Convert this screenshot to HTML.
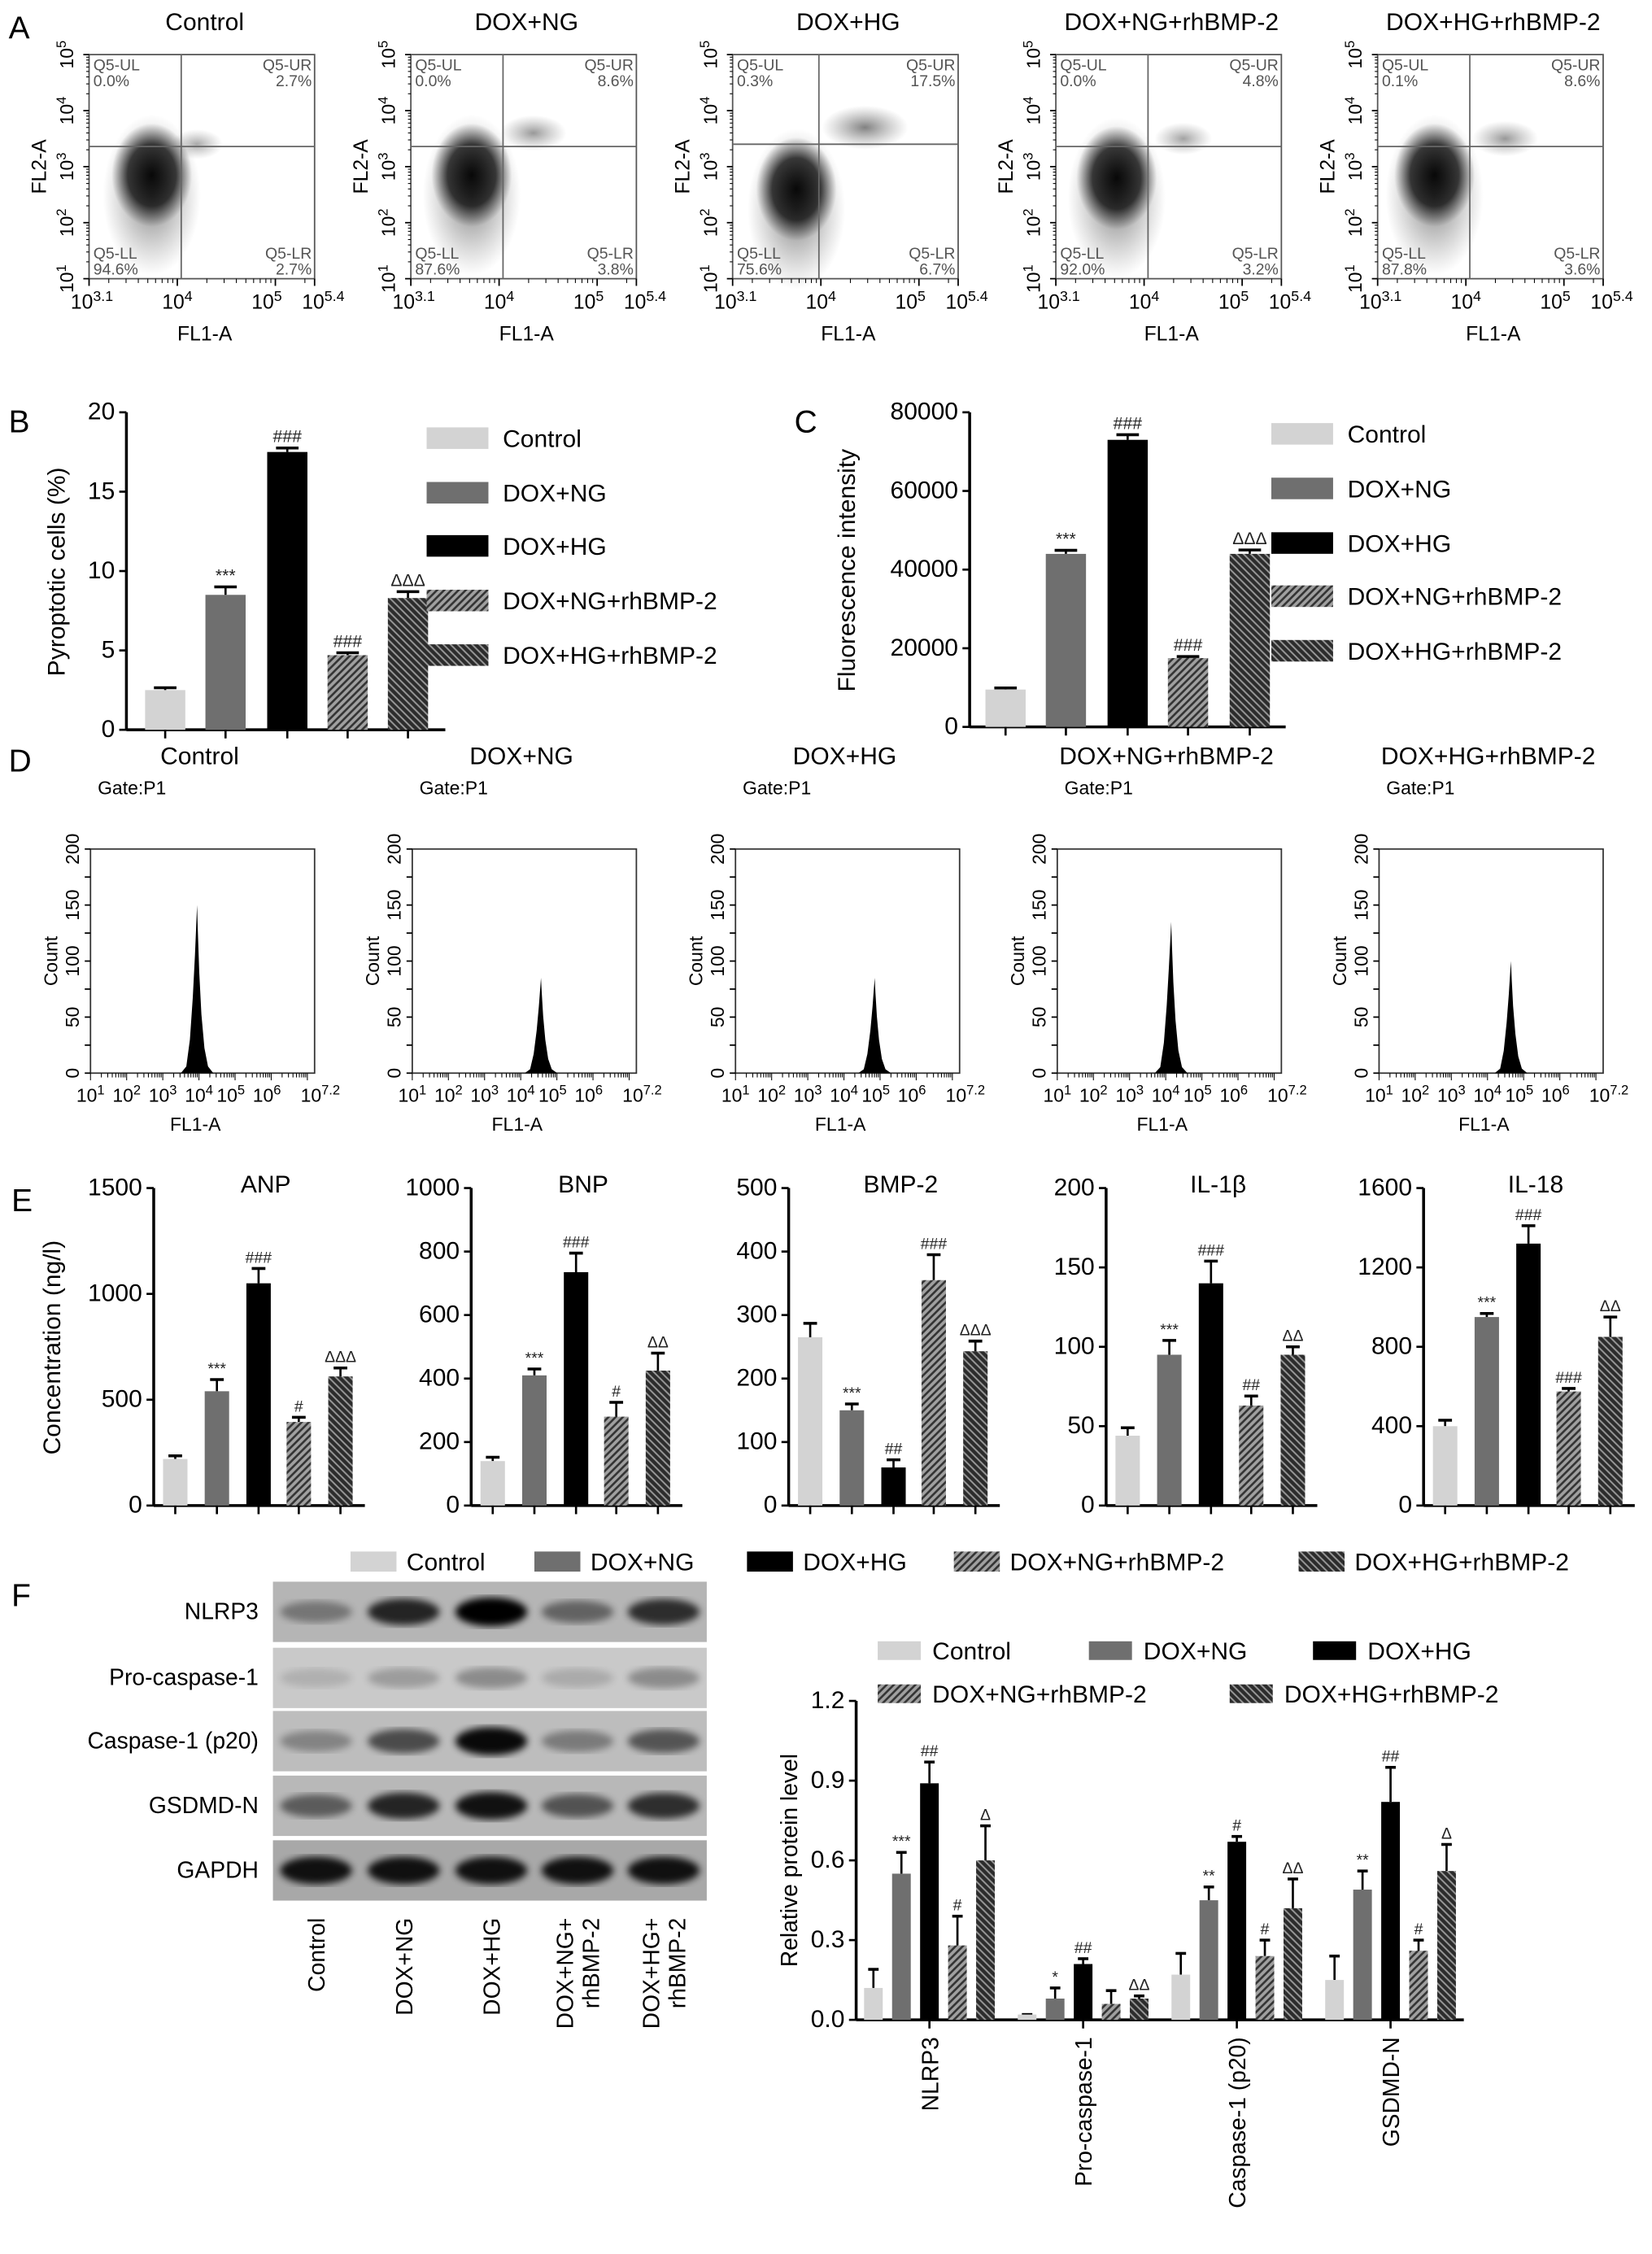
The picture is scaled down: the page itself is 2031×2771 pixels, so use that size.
<!DOCTYPE html>
<html><head><meta charset="utf-8"><style>
html,body{margin:0;padding:0;background:#fff}
svg{display:block;font-family:"Liberation Sans",Arial,sans-serif}
</style></head><body>
<svg id="fig" xmlns="http://www.w3.org/2000/svg" width="2031" height="2771" viewBox="0 0 1150 1569" preserveAspectRatio="none">
<defs>
<pattern id="hatchA" patternUnits="userSpaceOnUse" width="5" height="5"><rect width="5" height="5" fill="#a0a0a0"/><path d="M-1,1 l2,-2 M0,5 l5,-5 M4,6 l2,-2" stroke="#333" stroke-width="1.5"/></pattern>
<pattern id="hatchB" patternUnits="userSpaceOnUse" width="5" height="5"><rect width="5" height="5" fill="#2c2c2c"/><path d="M-1,4 l2,2 M0,0 l5,5 M4,-1 l2,2" stroke="#999" stroke-width="1.1"/></pattern>
<radialGradient id="cloud"><stop offset="0" stop-color="#000" stop-opacity="0.95"/><stop offset="0.6" stop-color="#111" stop-opacity="0.8"/><stop offset="1" stop-color="#333" stop-opacity="0"/></radialGradient>
<radialGradient id="cloud2"><stop offset="0" stop-color="#222" stop-opacity="0.6"/><stop offset="1" stop-color="#555" stop-opacity="0"/></radialGradient>
<filter id="blur"><feGaussianBlur stdDeviation="2.5"/></filter>
</defs>
</svg>
<script>
const NS='http://www.w3.org/2000/svg';
const svg=document.getElementById('fig');
function mk(tag,attrs,parent){const e=document.createElementNS(NS,tag);for(const k in attrs)e.setAttribute(k,attrs[k]);(parent||svg).appendChild(e);return e;}
function tx(x,y,s,size,anchor,parent){const e=mk('text',{x:x,y:y,'font-size':size,'text-anchor':anchor||'start'},parent);e.textContent=s;return e;}
function sup(x,y,base,ex,size,anchor,parent,rot){const e=mk('text',{x:x,y:y,'font-size':size,'text-anchor':anchor||'middle'},parent);if(rot)e.setAttribute('transform','rotate(-90 '+x+' '+y+')');const a=mk('tspan',{},e);a.textContent=base;const b=mk('tspan',{dy:-size*0.4,'font-size':size*0.72},e);b.textContent=ex;return e;}
const FILLS=['#d3d3d3','#6f6f6f','#000','url(#hatchA)','url(#hatchB)'];
const GROUPS=['Control','DOX+NG','DOX+HG','DOX+NG+rhBMP-2','DOX+HG+rhBMP-2'];

// ---------- Panel A data ----------
const scatterLefts=[62,286,510,735,959];
const scatterUL=['0.0%','0.0%','0.3%','0.0%','0.1%'];
const scatterUR=['2.7%','8.6%','17.5%','4.8%','8.6%'];
const scatterLL=['94.6%','87.6%','75.6%','92.0%','87.8%'];
const scatterLR=['2.7%','3.8%','6.7%','3.2%','3.6%'];
const clusterX=[3.74,3.72,3.75,3.72,3.68];
const clusterY=[2.85,2.85,2.6,2.8,2.85];
const urX=[4.2,4.35,4.45,4.4,4.4];
const urY=[3.4,3.6,3.7,3.5,3.5];
const urSize=[0.3,0.55,0.9,0.4,0.55];
const gateX=[4.04,4.04,3.98,4.04,4.04];
const gateY=[3.36,3.36,3.4,3.36,3.36];

mk('text',{x:6,y:27,'font-size':22}).textContent='A';
scatterLefts.forEach((L,i)=>{
  const g=mk('g',{});
  
  
  const T=38,W=157,H=156;
  const sx=v=>L+(v-3.1)/(5.4-3.1)*W, sy=v=>T+H-(v-1)/4*H;
  const title=tx(L+W/2+2,21,GROUPS[i],17,'middle',g);
  
  
  mk('ellipse',{cx:sx(clusterX[i]),cy:sy(clusterY[i])+14,rx:34,ry:56,fill:'url(#cloud2)'},g);
  const c=mk('ellipse',{cx:sx(clusterX[i]),cy:sy(clusterY[i]),rx:28,ry:36,fill:'url(#cloud)'},g);
  
  
  const u=mk('ellipse',{cx:sx(urX[i]),cy:sy(urY[i]),rx:12+20*urSize[i],ry:8+8*urSize[i],fill:'url(#cloud2)',opacity:0.5+0.5*urSize[i]},g);
  
  
  mk('rect',{x:L,y:T,width:W,height:H,fill:'none',stroke:'#555','stroke-width':1},g);
  mk('line',{x1:sx(gateX[i]),x2:sx(gateX[i]),y1:T,y2:T+H,stroke:'#666','stroke-width':1},g);
  mk('line',{x1:L,x2:L+W,y1:sy(gateY[i]),y2:sy(gateY[i]),stroke:'#666','stroke-width':1},g);
  const qs=[[L+3,T+11,'Q5-UL','start'],[L+3,T+22,scatterUL[i],'start'],[L+W-2,T+11,'Q5-UR','end'],[L+W-2,T+22,scatterUR[i],'end'],[L+3,T+H-14,'Q5-LL','start'],[L+3,T+H-3,scatterLL[i],'start'],[L+W-2,T+H-14,'Q5-LR','end'],[L+W-2,T+H-3,scatterLR[i],'end']];
  qs.forEach(q=>{const t=tx(q[0],q[1],q[2],11,q[3],g);t.setAttribute('fill','#555');});
  [1,2,3,4,5].forEach(v=>{const y=sy(v);mk('line',{x1:L-4,x2:L,y1:y,y2:y,stroke:'#000'},g);sup(L-11,y,'10',String(v),13,'middle',g,true);
    if(v<5)for(let m=2;m<10;m++){const yy=sy(v+Math.log10(m));mk('line',{x1:L-2,x2:L,y1:yy,y2:yy,stroke:'#000','stroke-width':0.6},g);}});
  [3.1,4,5,5.4].forEach(p=>{const x=sx(p);mk('line',{x1:x,x2:x,y1:T+H,y2:T+H+5,stroke:'#000'},g);});
  for(let d=3;d<=5;d++)for(let m=2;m<10;m++){const v=d+Math.log10(m);if(v>3.1&&v<5.4){const x=sx(v);mk('line',{x1:x,x2:x,y1:T+H,y2:T+H+3,stroke:'#000','stroke-width':0.6},g);}}
  sup(sx(3.1)+2,T+H+21,'10','3.1',14,'middle',g);sup(sx(4),T+H+21,'10','4',14,'middle',g);sup(sx(5)-6,T+H+21,'10','5',14,'middle',g);sup(sx(5.4)+6,T+H+21,'10','5.4',14,'middle',g);
  tx(L+W/2+2,T+H+43,'FL1-A',14,'middle',g);
  const yl=tx(L-30,T+H/2,'FL2-A',14,'middle',g);yl.setAttribute('transform','rotate(-90 '+(L-30)+' '+(T+H/2)+')');
});

function barChart(o){
  const g=mk('g',{});
  
  
  const sy=v=>o.bottom-(v/o.max)*(o.bottom-o.top);
  mk('line',{x1:o.x,x2:o.x,y1:o.top,y2:o.bottom,stroke:'#000','stroke-width':2},g);
  mk('line',{x1:o.x,x2:o.xEnd,y1:o.bottom,y2:o.bottom,stroke:'#000','stroke-width':2},g);
  o.ticks.forEach((v,k)=>{const y=sy(v);mk('line',{x1:o.x-5,x2:o.x,y1:y,y2:y,stroke:'#000','stroke-width':1.5},g);const t=tx(o.x-8,y+5,o.tickLabels[k],o.fs||16,'end',g);});
  o.vals.forEach((v,k)=>{
    const cx=o.barX[k];const w=o.bw;
    const yt=sy(v+o.errs[k]);
    mk('line',{x1:cx,x2:cx,y1:sy(v),y2:yt,stroke:'#000','stroke-width':1.5},g);
    mk('line',{x1:cx-w*0.28,x2:cx+w*0.28,y1:yt,y2:yt,stroke:'#000','stroke-width':2},g);
    const r=mk('rect',{x:cx-w/2,y:sy(v),width:w,height:o.bottom-sy(v),fill:FILLS[k%5]},g);
    
    
    if(o.sig[k]){const s=tx(cx,yt-4,o.sig[k],o.sigfs||11,'middle',g);s.setAttribute('fill','#222');}
    if(o.xticks!==false)mk('line',{x1:cx,x2:cx,y1:o.bottom,y2:o.bottom+6,stroke:'#000','stroke-width':1.5},g);
  });
  return g;
}
function legendItem(x,y,k,fs,sw,sh,tgap){
  const r=mk('rect',{x:x,y:y-sh/2,width:sw,height:sh,fill:FILLS[k]});
  
  
  const t=tx(x+sw+tgap,y+fs*0.36,GROUPS[k],fs,'start');
  
  
}

// ---------- Panel B ----------
const bVals=[2.5,8.5,17.5,4.7,8.3];
const bErrs=[0.15,0.5,0.25,0.15,0.4];
const bSig=['','***','###','###','ΔΔΔ'];
const bTicks=[0,5,10,15,20];
const bTickLabels=['0','5','10','15','20'];
tx(6,301,'B',22);
barChart({name:'pyroptotic-cells-chart',x:88,xEnd:310,top:287,bottom:508,max:20,ticks:bTicks,tickLabels:bTickLabels,vals:bVals,errs:bErrs,sig:bSig,cats:GROUPS,barX:[115,157,200,242,284],bw:28,fs:17,sigfs:12});
{const t=tx(45,398,'Pyroptotic cells (%)',17,'middle');t.setAttribute('transform','rotate(-90 45 398)');}
[305,343,380,418,456].forEach((y,k)=>legendItem(297,y,k,17,43,15,10));

// ---------- Panel C ----------
const cVals=[9500,44000,73000,17500,44000];
const cErrs=[400,900,1300,400,1000];
const cSig=['','***','###','###','ΔΔΔ'];
const cTicks=[0,20000,40000,60000,80000];
const cTickLabels=['0','20000','40000','60000','80000'];
tx(553,301,'C',22);
barChart({name:'fluorescence-intensity-chart',x:675,xEnd:895,top:287,bottom:506,max:80000,ticks:cTicks,tickLabels:cTickLabels,vals:cVals,errs:cErrs,sig:cSig,cats:GROUPS,barX:[700,742,785,827,870],bw:28,fs:17,sigfs:12});
{const t=tx(595,397,'Fluorescence intensity',17,'middle');t.setAttribute('transform','rotate(-90 595 397)');}
[302,340,378,415,453].forEach((y,k)=>legendItem(885,y,k,17,43,15,10));

// ---------- Panel D ----------
const histLefts=[63,287,512,736,960];
const histPeakLog=[3.95,4.56,4.85,4.15,4.65];
const histPeakCount=[150,85,85,135,100];
const histTicks=[0,25,50,75,100,125,150,175,200];
tx(6,537,'D',22);
histLefts.forEach((L,i)=>{
  const g=mk('g',{});
  
  
  const T=591,W=156,H=156;
  const sx=v=>L+(v-1)/6.2*W, sy=v=>T+H-v/200*H;
  tx(L+W/2-2,532,GROUPS[i],17,'middle',g);
  tx(L+5,553,'Gate:P1',13,'start',g);
  mk('rect',{x:L,y:T,width:W,height:H,fill:'none',stroke:'#333','stroke-width':1},g);
  const c=histPeakLog[i],h=histPeakCount[i];
  let d='M'+sx(c-0.45)+','+sy(0);
  const pts=[[-0.45,0],[-0.3,0.04],[-0.2,0.2],[-0.12,0.45],[-0.06,0.7],[-0.02,0.9],[0,1],[0.02,0.85],[0.06,0.6],[0.12,0.35],[0.2,0.15],[0.3,0.04],[0.45,0]];
  pts.forEach(p=>{d+=' L'+sx(c+p[0]).toFixed(1)+','+sy(h*p[1]).toFixed(1);});
  const pk=mk('path',{d:d+'Z',fill:'#000'},g);
  
  
  histTicks.forEach(v=>{const y=sy(v);mk('line',{x1:L-4,x2:L,y1:y,y2:y,stroke:'#000'},g);if(v%50===0){const t=tx(L-8,y,String(v),13,'middle',g);t.setAttribute('transform','rotate(-90 '+(L-8)+' '+y+')');}});
  for(let dd=1;dd<=7;dd++){for(let m=1;m<10;m++){const v=dd+Math.log10(m);if(v<=7.2){const x=sx(v);mk('line',{x1:x,x2:x,y1:T+H,y2:T+H+(m===1?5:3),stroke:'#000','stroke-width':0.6},g);}}}
  [1,2,3,4,5,6].forEach(v=>sup(sx(v)+(v>=5?-3:0),T+H+20,'10',String(v),13,'middle',g));
  sup(sx(7.2)+4,T+H+20,'10','7.2',13,'middle',g);
  tx(L+W/2-5,T+H+40,'FL1-A',13,'middle',g);
  const yl=tx(L-23,T+H/2,'Count',13,'middle',g);yl.setAttribute('transform','rotate(-90 '+(L-23)+' '+(T+H/2)+')');
});

// ---------- Panel E ----------
const eTitles=['ANP','BNP','BMP-2','IL-1β','IL-18'];
const eMax=[1500,1000,500,200,1600];
const eTicks=[[0,500,1000,1500],[0,200,400,600,800,1000],[0,100,200,300,400,500],[0,50,100,150,200],[0,400,800,1200,1600]];
const eVals=[[220,540,1050,395,610],[140,410,735,280,425],[265,150,60,355,243],[44,95,140,63,95],[400,950,1320,575,850]];
const eErrs=[[15,55,70,22,40],[12,20,60,45,55],[22,10,12,40,16],[5,9,14,6,5],[30,18,90,15,100]];
const eSig=[['','***','###','#','ΔΔΔ'],['','***','###','#','ΔΔ'],['','***','##','###','ΔΔΔ'],['','***','###','##','ΔΔ'],['','***','###','###','ΔΔ']];
const eLefts=[107,328,549,770,991];
tx(8,843,'E',22);
eLefts.forEach((L,i)=>{
  barChart({name:'chart-'+eTitles[i].toLowerCase().replace(/[^a-z0-9]+/g,'-'),x:L,xEnd:L+147,top:827,bottom:1048,max:eMax[i],ticks:eTicks[i],tickLabels:eTicks[i].map(String),vals:eVals[i],errs:eErrs[i],sig:eSig[i],cats:GROUPS,barX:[L+15,L+44,L+73,L+101,L+130],bw:17,fs:17,sigfs:11});
  const t=tx(L+78,830,eTitles[i],17,'middle');
});
{const t=tx(42,938,'Concentration (ng/l)',17,'middle');t.setAttribute('transform','rotate(-90 42 938)');}
[[244,0],[372,1],[520,2],[664,3],[904,4]].forEach(p=>legendItem(p[0],1087,p[1],17,32,14,7));

// ---------- Panel F blot ----------
const blotProteins=['NLRP3','Pro-caspase-1','Caspase-1 (p20)','GSDMD-N','GAPDH'];
const blotRowTop=[1101,1147,1191,1236,1281];
const blotBg=['#b5b5b5','#c9c9c9','#bdbdbd','#b8b8b8','#a8a8a8'];
const blotIntensity=[[0.35,0.8,1.0,0.45,0.75],[0.12,0.22,0.3,0.15,0.3],[0.3,0.6,0.95,0.35,0.55],[0.5,0.8,0.9,0.55,0.75],[0.9,0.9,0.9,0.9,0.9]];
const laneX=[220,281,342,402,462];
tx(8,1118,'F',22);
blotProteins.forEach((p,r)=>{
  const g=mk('g',{});
  
  
  mk('rect',{x:190,y:blotRowTop[r],width:302,height:42,fill:blotBg[r]},g);
  blotIntensity[r].forEach((v,k)=>{mk('ellipse',{cx:laneX[k],cy:blotRowTop[r]+21,rx:25,ry:6+4*v,fill:'#000',opacity:v,filter:'url(#blur)'},g);});
  tx(180,blotRowTop[r]+26,p,16,'end',g);
});
const laneLabels=[['Control'],['DOX+NG'],['DOX+HG'],['DOX+NG+','rhBMP-2'],['DOX+HG+','rhBMP-2']];
laneLabels.forEach((ls,k)=>{ls.forEach((s,j)=>{const x=laneX[k]+6+(j-(ls.length-1)/2)*18;const t=tx(x,1335,s,16,'end');t.setAttribute('transform','rotate(-90 '+x+' 1335)');});});

// ---------- Panel F chart ----------
const fCats=['NLRP3','Pro-caspase-1','Caspase-1 (p20)','GSDMD-N'];
const fVals=[[0.12,0.55,0.89,0.28,0.60],[0.02,0.08,0.21,0.06,0.08],[0.17,0.45,0.67,0.24,0.42],[0.15,0.49,0.82,0.26,0.56]];
const fErrs=[[0.07,0.08,0.08,0.11,0.13],[0,0.04,0.02,0.05,0.01],[0.08,0.05,0.02,0.06,0.11],[0.09,0.07,0.13,0.04,0.10]];
const fSig=[['','***','##','#','Δ'],['','*','##','','ΔΔ'],['','**','#','#','ΔΔ'],['','**','##','#','Δ']];
const fTicks=[0,0.3,0.6,0.9,1.2];
const fTickLabels=['0.0','0.3','0.6','0.9','1.2'];
{
  const vals=[],errs=[],sig=[],xs=[],cats=[];
  fCats.forEach((c,gi)=>{fVals[gi].forEach((v,k)=>{vals.push(v);errs.push(fErrs[gi][k]);sig.push(fSig[gi][k]);xs.push(608+gi*107+k*19.5);cats.push(c+'-'+GROUPS[k]);});});
  barChart({name:'relative-protein-chart',x:596,xEnd:1019,top:1184,bottom:1406,max:1.2,ticks:fTicks,tickLabels:fTickLabels,vals:vals,errs:errs,sig:sig,cats:cats,barX:xs,bw:13,fs:17,sigfs:11,xticks:false});
  fCats.forEach((c,gi)=>{const x=608+gi*107+39;mk('line',{x1:x,x2:x,y1:1406,y2:1412,stroke:'#000','stroke-width':1.5});const t=tx(x+6,1418,c,16,'end');t.setAttribute('transform','rotate(-90 '+(x+6)+' 1418)');});
  const t=tx(555,1295,'Relative protein level',16,'middle');t.setAttribute('transform','rotate(-90 555 1295)');
}
[[611,1149,0],[758,1149,1],[914,1149,2],[611,1179,3],[856,1179,4]].forEach(p=>legendItem(p[0],p[1],p[2],17,30,13,8));
</script>
</body></html>
